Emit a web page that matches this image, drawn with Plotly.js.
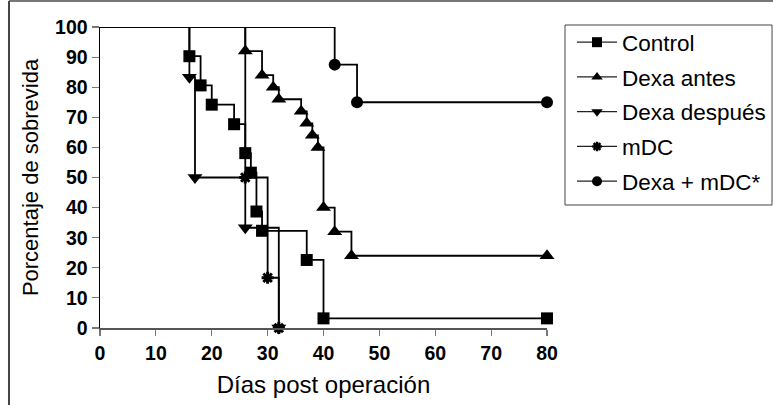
<!DOCTYPE html>
<html>
<head>
<meta charset="utf-8">
<script src="https://cdn.plot.ly/plotly-3.0.1.min.js"></script>
<style>html,body{margin:0;padding:0;background:#fff;}#chart{width:773px;height:405px;}</style>
</head>
<body>
<div id="chart"></div>
<script>
// Survival data (step points)
const controlX = [0, 16, 18, 20, 24, 26, 27, 28, 29, 37, 40, 80];
const controlY = [100, 90.3, 80.6, 74.2, 67.7, 58.1, 51.6, 38.7, 32.3, 22.6, 3.2, 3.2];
const antesX = [0, 26, 29, 31, 32, 36, 37, 38, 39, 40, 42, 45, 80];
const antesY = [100, 92, 84, 80, 76, 72, 68, 64, 60, 40, 32, 24, 24];
const despuesX = [0, 16, 17, 26, 32];
const despuesY = [100, 83.3, 50, 33.3, 0];
const mdcX = [0, 26, 30, 32];
const mdcY = [100, 50, 16.7, 0];
const dexaMdcX = [0, 42, 46, 80];
const dexaMdcY = [100, 87.5, 75, 75];
const seriesNames = ["Control", "Dexa antes", "Dexa después", "mDC", "Dexa + mDC*"];
const xTicks = [0, 10, 20, 30, 40, 50, 60, 70, 80];
const yTicks = [0, 10, 20, 30, 40, 50, 60, 70, 80, 90, 100];

const series = [
  {x: controlX, y: controlY, symbol: "square", size: 12},
  {x: antesX, y: antesY, symbol: "triangle-up", size: 13},
  {x: despuesX, y: despuesY, symbol: "triangle-down", size: 13},
  {x: mdcX, y: mdcY, symbol: "asterisk", size: 10},
  {x: dexaMdcX, y: dexaMdcY, symbol: "circle", size: 12}
];

const traces = [];
series.forEach((s, i) => {
  traces.push({
    type: "scatter", mode: "lines+markers", x: s.x, y: s.y,
    line: {shape: "hv", color: "#000000", width: 1.8},
    marker: {symbol: s.symbol, color: "#000000", opacity: 1,
             size: s.x.map((v, k) => k === 0 ? 0 : s.size),
             line: {color: "#000000", width: s.symbol === "asterisk" ? 3 : 0}},
    showlegend: false, cliponaxis: false, hoverinfo: "x+y"
  });
});
series.forEach((s, i) => {
  traces.push({
    type: "scatter", mode: "lines+markers", x: [null], y: [null],
    name: seriesNames[i], legendgroup: "g" + i,
    line: {color: "#222222", width: 1.3},
    marker: {symbol: s.symbol, color: "#000000", opacity: 1, size: s.symbol === "asterisk" ? 8 : 10,
             line: {color: "#000000", width: s.symbol === "asterisk" ? 2.5 : 0}}
  });
});

const layout = {
  width: 773, height: 405,
  margin: {l: 100, r: 226, t: 27, b: 77},
  paper_bgcolor: "#fff", plot_bgcolor: "#fff",
  font: {family: "Liberation Sans, Arial, sans-serif", color: "#000"},
  xaxis: {
    range: [0, 80], tickvals: xTicks, ticktext: xTicks.map(String),
    ticks: "outside", ticklen: 6, tickcolor: "#777", tickwidth: 1.2,
    showline: true, linecolor: "#555", linewidth: 1.5,
    showgrid: false, zeroline: false, ticklabelstandoff: 1,
    tickfont: {size: 19.5, weight: "bold", color: "#000"},
    title: {text: "Días post operación", font: {size: 24}, standoff: 13},
    automargin: false
  },
  yaxis: {
    range: [0, 100], tickvals: yTicks, ticktext: yTicks.map(String),
    ticks: "outside", ticklen: 7, tickcolor: "#777", tickwidth: 1.2,
    showline: true, linecolor: "#000", linewidth: 1.5,
    showgrid: false, zeroline: false,
    tickfont: {size: 19.5, weight: "bold", color: "#000"},
    title: {text: "Porcentaje de sobrevida", font: {size: 22}, standoff: 10},
    automargin: false
  },
  legend: {
    xref: "container", yref: "container",
    x: 0.74, y: 0.948, xanchor: "left", yanchor: "top",
    bgcolor: "rgba(0,0,0,0)", borderwidth: 0,
    font: {size: 22.5, color: "#000"}, tracegroupgap: 2.5, itemwidth: 40
  },
  shapes: [
    {type: "rect", xref: "paper", yref: "paper", x0: 1.0403, x1: 1.5034, y0: 0.4086, y1: 1.0066,
     line: {color: "#444", width: 1}},
    {type: "line", xref: "paper", yref: "paper", x0: -0.2036, x1: 1.6, y0: 1.0864, y1: 1.0864,
     line: {color: "#777", width: 2}},
    {type: "line", xref: "paper", yref: "paper", x0: -0.2036, x1: -0.2036, y0: -0.3, y1: 1.0864,
     line: {color: "#444", width: 2}}
  ],
  showlegend: true
};

Plotly.newPlot("chart", traces, layout, {displayModeBar: false, staticPlot: true});
</script>
</body>
</html>
